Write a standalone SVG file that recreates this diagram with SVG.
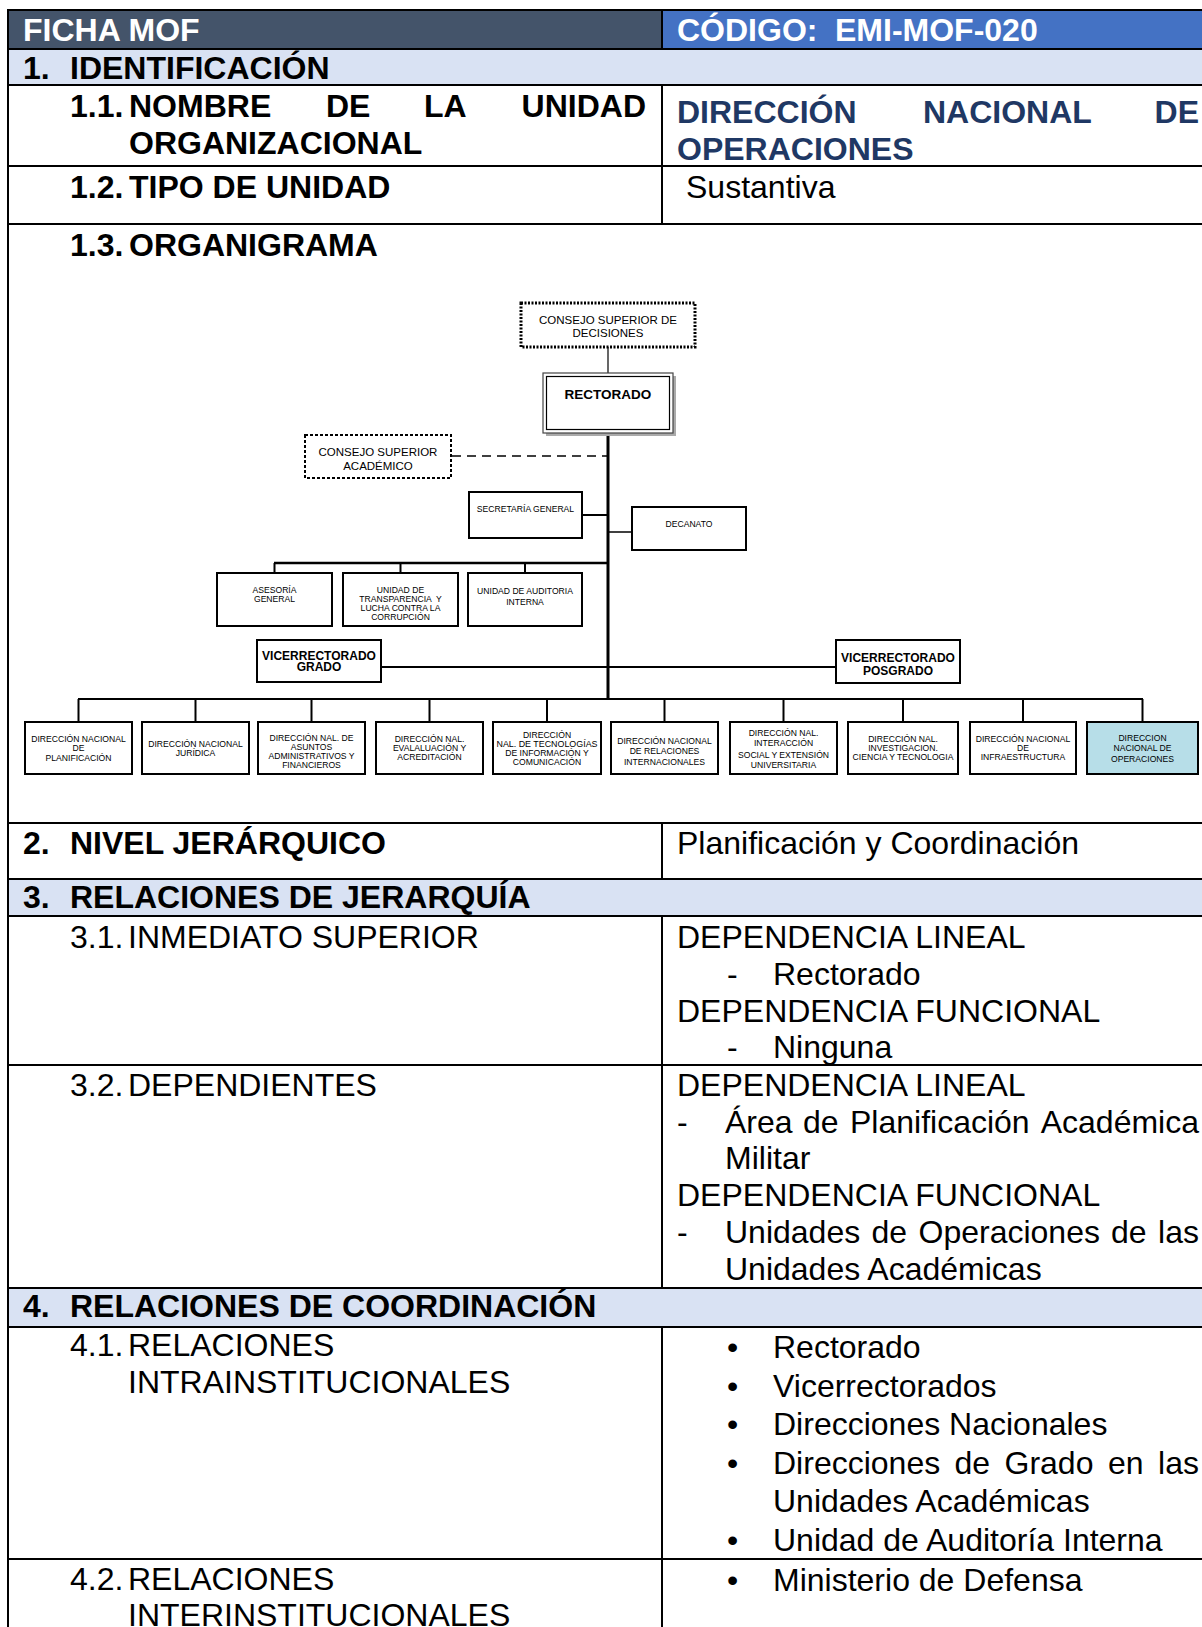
<svg xmlns="http://www.w3.org/2000/svg" width="1202" height="1627" viewBox="0 0 1202 1627">
<style>
text{font-family:"Liberation Sans",Arial,sans-serif;fill:#000}
.H{font-size:32px;font-weight:bold;fill:#fff}
.B{font-size:32px;font-weight:bold}
.N{font-size:32px}
.T{font-size:32px;font-weight:bold;fill:#1F3864}
.grid line{stroke:#000;stroke-width:2}
.s{font-size:8.6px;text-anchor:middle}
.m{font-size:11.5px;text-anchor:middle}
.mb{font-size:12px;font-weight:bold;text-anchor:middle}
.box{fill:#fff;stroke:#000;stroke-width:2}
.end{text-anchor:end}
</style>
<rect x="0" y="0" width="1202" height="1627" fill="#fff"/>
<!-- fills -->
<rect x="8" y="10" width="654" height="39" fill="#44546A"/>
<rect x="662" y="10" width="540" height="39" fill="#4472C4"/>
<rect x="8" y="49" width="1194" height="36" fill="#D9E2F3"/>
<rect x="8" y="879" width="1194" height="37" fill="#D9E2F3"/>
<rect x="8" y="1288" width="1194" height="39" fill="#D9E2F3"/>
<g class="grid">
<line x1="8" y1="9" x2="8" y2="1627"/>
<line x1="7" y1="10" x2="1202" y2="10"/>
<line x1="7" y1="49" x2="1202" y2="49"/>
<line x1="7" y1="85" x2="1202" y2="85"/>
<line x1="7" y1="166" x2="1202" y2="166"/>
<line x1="7" y1="224" x2="1202" y2="224"/>
<line x1="7" y1="823" x2="1202" y2="823"/>
<line x1="7" y1="879" x2="1202" y2="879"/>
<line x1="7" y1="916" x2="1202" y2="916"/>
<line x1="7" y1="1065" x2="1202" y2="1065"/>
<line x1="7" y1="1288" x2="1202" y2="1288"/>
<line x1="7" y1="1327" x2="1202" y2="1327"/>
<line x1="7" y1="1559" x2="1202" y2="1559"/>
<line x1="662" y1="10" x2="662" y2="49"/>
<line x1="662" y1="85" x2="662" y2="224"/>
<line x1="662" y1="823" x2="662" y2="879"/>
<line x1="662" y1="916" x2="662" y2="1288"/>
<line x1="662" y1="1327" x2="662" y2="1627"/>
</g>
<!-- table texts -->
<g id="header">
<text class="H" x="23" y="41">FICHA MOF</text>
<text class="H" x="677" y="41">CÓDIGO:</text>
<text class="H" x="835" y="41">EMI-MOF-020</text>
</g>
<g id="sec1">
<text class="B" x="23" y="79">1.</text>
<text class="B" x="70" y="79">IDENTIFICACIÓN</text>
<text class="B" x="70" y="117">1.1.</text>
<text class="B" x="129" y="117">NOMBRE</text>
<text class="B" x="326" y="117">DE</text>
<text class="B" x="424" y="117">LA</text>
<text class="B end" x="646" y="117">UNIDAD</text>
<text class="B" x="129" y="154">ORGANIZACIONAL</text>
<text class="T" x="677" y="123">DIRECCIÓN</text>
<text class="T" x="923" y="123">NACIONAL</text>
<text class="T end" x="1199" y="123">DE</text>
<text class="T" x="677" y="160">OPERACIONES</text>
<text class="B" x="70" y="198">1.2.</text>
<text class="B" x="129" y="198">TIPO DE UNIDAD</text>
<text class="N" x="686" y="198">Sustantiva</text>
<text class="B" x="70" y="256">1.3.</text>
<text class="B" x="129" y="256">ORGANIGRAMA</text>
</g>
<g id="sec2">
<text class="B" x="23" y="854">2.</text>
<text class="B" x="70" y="854">NIVEL JERÁRQUICO</text>
<text class="N" x="677" y="854">Planificación y Coordinación</text>
</g>
<g id="sec3">
<text class="B" x="23" y="908">3.</text>
<text class="B" x="70" y="908">RELACIONES DE JERARQUÍA</text>
<text class="N" x="70" y="948">3.1.</text>
<text class="N" x="128" y="948">INMEDIATO SUPERIOR</text>
<text class="N" x="677" y="948">DEPENDENCIA LINEAL</text>
<text class="N" x="727" y="985">-</text>
<text class="N" x="773" y="985">Rectorado</text>
<text class="N" x="677" y="1022">DEPENDENCIA FUNCIONAL</text>
<text class="N" x="727" y="1058">-</text>
<text class="N" x="773" y="1058">Ninguna</text>
<text class="N" x="70" y="1096">3.2.</text>
<text class="N" x="128" y="1096">DEPENDIENTES</text>
<text class="N" x="677" y="1096">DEPENDENCIA LINEAL</text>
<text class="N" x="677" y="1133">-</text>
<text class="N" x="725" y="1133">Área</text>
<text class="N" x="803" y="1133">de</text>
<text class="N" x="850" y="1133">Planificación</text>
<text class="N end" x="1199" y="1133">Académica</text>
<text class="N" x="725" y="1169">Militar</text>
<text class="N" x="677" y="1206">DEPENDENCIA FUNCIONAL</text>
<text class="N" x="677" y="1243">-</text>
<text class="N" x="725" y="1243">Unidades</text>
<text class="N" x="871.5" y="1243">de</text>
<text class="N" x="918.5" y="1243">Operaciones</text>
<text class="N" x="1111" y="1243">de</text>
<text class="N end" x="1199" y="1243">las</text>
<text class="N" x="725" y="1280">Unidades Académicas</text>
</g>
<g id="sec4">
<text class="B" x="23" y="1317">4.</text>
<text class="B" x="70" y="1317">RELACIONES DE COORDINACIÓN</text>
<text class="N" x="70" y="1356">4.1.</text>
<text class="N" x="128" y="1356">RELACIONES</text>
<text class="N" x="128" y="1393">INTRAINSTITUCIONALES</text>
<text class="N" x="727" y="1358">•</text>
<text class="N" x="773" y="1358">Rectorado</text>
<text class="N" x="727" y="1397">•</text>
<text class="N" x="773" y="1397">Vicerrectorados</text>
<text class="N" x="727" y="1435">•</text>
<text class="N" x="773" y="1435">Direcciones Nacionales</text>
<text class="N" x="727" y="1474">•</text>
<text class="N" x="773" y="1474">Direcciones</text>
<text class="N" x="954.5" y="1474">de</text>
<text class="N" x="1004.5" y="1474">Grado</text>
<text class="N" x="1108" y="1474">en</text>
<text class="N end" x="1199" y="1474">las</text>
<text class="N" x="773" y="1512">Unidades Académicas</text>
<text class="N" x="727" y="1551">•</text>
<text class="N" x="773" y="1551">Unidad de Auditoría Interna</text>
<text class="N" x="70" y="1590">4.2.</text>
<text class="N" x="128" y="1590">RELACIONES</text>
<text class="N" x="128" y="1626">INTERINSTITUCIONALES</text>
<text class="N" x="727" y="1591">•</text>
<text class="N" x="773" y="1591">Ministerio de Defensa</text>
</g>
<!-- org chart connectors -->
<g id="connectors" stroke="#000" fill="none">
<line x1="608" y1="347" x2="608" y2="373" stroke-width="1.2"/>
<line x1="608" y1="433" x2="608" y2="700" stroke-width="3"/>
<line x1="452" y1="456" x2="607" y2="456" stroke-width="1.3" stroke-dasharray="9,6"/>
<line x1="582" y1="515" x2="608" y2="515" stroke-width="2"/>
<line x1="608" y1="532" x2="632" y2="532" stroke-width="1.5"/>
<line x1="274" y1="563" x2="608" y2="563" stroke-width="2.5"/>
<line x1="274.5" y1="563" x2="274.5" y2="573" stroke-width="2"/>
<line x1="400.5" y1="563" x2="400.5" y2="573" stroke-width="2"/>
<line x1="525" y1="563" x2="525" y2="573" stroke-width="2"/>
<line x1="381" y1="667" x2="836" y2="667" stroke-width="2"/>
<line x1="78" y1="699" x2="1143" y2="699" stroke-width="2"/>
<line x1="78.5" y1="699" x2="78.5" y2="722" stroke-width="2"/>
<line x1="195.5" y1="699" x2="195.5" y2="722" stroke-width="2"/>
<line x1="311.5" y1="699" x2="311.5" y2="722" stroke-width="2"/>
<line x1="429.5" y1="699" x2="429.5" y2="722" stroke-width="2"/>
<line x1="547" y1="699" x2="547" y2="722" stroke-width="2"/>
<line x1="664.5" y1="699" x2="664.5" y2="722" stroke-width="2"/>
<line x1="783.5" y1="699" x2="783.5" y2="722" stroke-width="2"/>
<line x1="903" y1="699" x2="903" y2="722" stroke-width="2"/>
<line x1="1023" y1="699" x2="1023" y2="722" stroke-width="2"/>
<line x1="1142.5" y1="699" x2="1142.5" y2="722" stroke-width="2"/>
</g>
<!-- org chart nodes -->
<g id="csd">
<rect x="521" y="303" width="174" height="44" fill="#fff" stroke="#000" stroke-width="3" stroke-dasharray="2,1.5"/>
<text class="m" x="608" y="324">CONSEJO SUPERIOR DE</text>
<text class="m" x="608" y="337">DECISIONES</text>
</g>
<g id="rectorado">
<rect x="546" y="376" width="130" height="60" fill="#aaa"/>
<rect x="543" y="373" width="130" height="60" fill="#fff" stroke="#444" stroke-width="1.2"/>
<rect x="546.5" y="376.5" width="123" height="53" fill="none" stroke="#000" stroke-width="1.2"/>
<text class="mb" x="608" y="399" style="font-size:13.5px">RECTORADO</text>
</g>
<g id="csa">
<rect x="305" y="435" width="146" height="43" fill="#fff" stroke="#000" stroke-width="2" stroke-dasharray="3,2"/>
<text class="m" x="378" y="456">CONSEJO SUPERIOR</text>
<text class="m" x="378" y="469.5">ACADÉMICO</text>
</g>
<g id="sg">
<rect class="box" x="469" y="492" width="113" height="46"/>
<text class="s" x="525.5" y="512">SECRETARÍA GENERAL</text>
</g>
<g id="decanato">
<rect class="box" x="632" y="507" width="114" height="43"/>
<text class="s" x="689" y="527">DECANATO</text>
</g>
<g id="asesoria">
<rect class="box" x="217" y="573" width="115" height="53"/>
<text class="s" x="274.5" y="593">ASESORÍA</text>
<text class="s" x="274.5" y="602">GENERAL</text>
</g>
<g id="transparencia">
<rect class="box" x="343" y="573" width="115" height="53"/>
<text class="s" x="400.5" y="593">UNIDAD DE</text>
<text class="s" x="400.5" y="602" xml:space="preserve">TRANSPARENCIA  Y</text>
<text class="s" x="400.5" y="611">LUCHA CONTRA LA</text>
<text class="s" x="400.5" y="620">CORRUPCIÓN</text>
</g>
<g id="auditoria">
<rect class="box" x="468" y="573" width="114" height="53"/>
<text class="s" x="525" y="594">UNIDAD DE AUDITORIA</text>
<text class="s" x="525" y="605">INTERNA</text>
</g>
<g id="vr-grado">
<rect class="box" x="257" y="640" width="124" height="42"/>
<text class="mb" x="319" y="660">VICERRECTORADO</text>
<text class="mb" x="319" y="671">GRADO</text>
</g>
<g id="vr-posgrado">
<rect class="box" x="836" y="640" width="124" height="43"/>
<text class="mb" x="898" y="662">VICERRECTORADO</text>
<text class="mb" x="898" y="675">POSGRADO</text>
</g>
<g id="dn-planificacion">
<rect class="box" x="25" y="722" width="107" height="52"/>
<text class="s" x="78.5" y="741.5">DIRECCIÓN NACIONAL</text>
<text class="s" x="78.5" y="751">DE</text>
<text class="s" x="78.5" y="761">PLANIFICACIÓN</text>
</g>
<g id="dn-juridica">
<rect class="box" x="142" y="722" width="107" height="52"/>
<text class="s" x="195.5" y="746.5">DIRECCIÓN NACIONAL</text>
<text class="s" x="195.5" y="755.5">JURÍDICA</text>
</g>
<g id="dn-administrativos">
<rect class="box" x="258" y="722" width="107" height="52"/>
<text class="s" x="311.5" y="741">DIRECCIÓN NAL. DE</text>
<text class="s" x="311.5" y="750">ASUNTOS</text>
<text class="s" x="311.5" y="759">ADMINISTRATIVOS Y</text>
<text class="s" x="311.5" y="768">FINANCIEROS</text>
</g>
<g id="dn-evaluacion">
<rect class="box" x="376" y="722" width="107" height="52"/>
<text class="s" x="429.5" y="741.5">DIRECCIÓN NAL.</text>
<text class="s" x="429.5" y="750.5">EVALALUACIÓN Y</text>
<text class="s" x="429.5" y="759.5">ACREDITACIÓN</text>
</g>
<g id="dn-tic">
<rect class="box" x="493" y="722" width="108" height="52"/>
<text class="s" x="547" y="738">DIRECCIÓN</text>
<text class="s" x="547" y="747" textLength="101" lengthAdjust="spacingAndGlyphs">NAL. DE TECNOLOGÍAS</text>
<text class="s" x="547" y="756">DE INFORMACIÓN Y</text>
<text class="s" x="547" y="764.5">COMUNICACIÓN</text>
</g>
<g id="dn-relaciones">
<rect class="box" x="611" y="722" width="107" height="52"/>
<text class="s" x="664.5" y="744">DIRECCIÓN NACIONAL</text>
<text class="s" x="664.5" y="754">DE RELACIONES</text>
<text class="s" x="664.5" y="764.5">INTERNACIONALES</text>
</g>
<g id="dn-interaccion">
<rect class="box" x="730" y="722" width="107" height="52"/>
<text class="s" x="783.5" y="736">DIRECCIÓN NAL.</text>
<text class="s" x="783.5" y="746">INTERACCIÓN</text>
<text class="s" x="783.5" y="757.5">SOCIAL Y EXTENSIÓN</text>
<text class="s" x="783.5" y="768">UNIVERSITARIA</text>
</g>
<g id="dn-investigacion">
<rect class="box" x="848" y="722" width="110" height="52"/>
<text class="s" x="903" y="742">DIRECCIÓN NAL.</text>
<text class="s" x="903" y="750.5">INVESTIGACION.</text>
<text class="s" x="903" y="760">CIENCIA Y TECNOLOGIA</text>
</g>
<g id="dn-infraestructura">
<rect class="box" x="970" y="722" width="106" height="52"/>
<text class="s" x="1023" y="741.5">DIRECCIÓN NACIONAL</text>
<text class="s" x="1023" y="750.5">DE</text>
<text class="s" x="1023" y="760">INFRAESTRUCTURA</text>
</g>
<g id="dn-operaciones">
<rect class="box" x="1087" y="722" width="111" height="52" style="fill:#B7DEE8"/>
<text class="s" x="1142.5" y="741">DIRECCION</text>
<text class="s" x="1142.5" y="751">NACIONAL DE</text>
<text class="s" x="1142.5" y="761.5">OPERACIONES</text>
</g>
</svg>
